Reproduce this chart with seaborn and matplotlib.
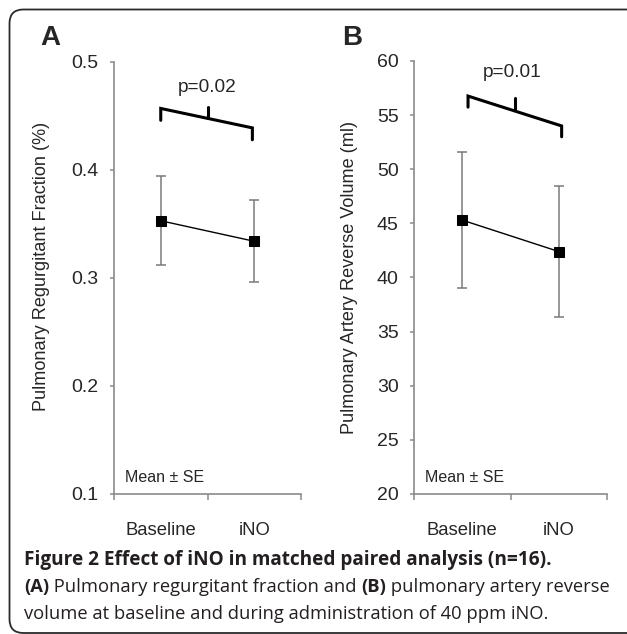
import matplotlib
matplotlib.use("Agg")
import matplotlib.pyplot as plt
import matplotlib.patches as mpatches
import seaborn as sns
import pandas as pd

# datos (media +/- SE)
groups = ['Baseline', 'iNO']
prf_mean = [0.353, 0.334]
prf_se = [0.0414, 0.038]
vol_mean = [45.3, 42.4]
vol_se = [6.25, 6.05]
p_values = ['p=0.02', 'p=0.01']

sns.set_style('white')
plt.rcParams['font.family'] = ['Liberation Sans', 'DejaVu Sans']

W, H = 627, 634
fig = plt.figure(figsize=(W / 100, H / 100), dpi=100)

axis_grey = '#8a8a8a'


def panel(ax, means, ses, ylim, yticks, ylabel, label_y, letter, bracket, ptext):
    df = pd.DataFrame({'grupo': groups, 'valor': means})
    ax.errorbar([0, 1], means, yerr=ses, fmt='none', ecolor='#7a7a7a',
                elinewidth=1.1, capsize=3.5, capthick=1.1, zorder=2)
    sns.pointplot(data=df, x='grupo', y='valor', color='black', markers='s',
                  markersize=7, linewidth=1.0, errorbar=None, ax=ax, zorder=3)
    ax.set_xlim(-0.5, 1.5)
    ax.set_ylim(*ylim)
    ax.set_yticks(yticks)
    ax.set_yticklabels([('%g' % t) if isinstance(t, int) else ('%.1f' % t) for t in yticks])
    ax.set_xticks([-0.5, 0.5, 1.5])
    ax.set_xticklabels(['', '', ''])
    ax.set_xticks([0, 1], minor=True)
    ax.set_xticklabels(groups, minor=True, fontsize=13.3)
    ax.tick_params(axis='x', which='major', direction='out', length=4, width=1.1,
                   color=axis_grey, bottom=True)
    ax.tick_params(axis='x', which='minor', length=0, pad=20)
    ax.tick_params(axis='y', direction='out', length=3, width=1.1, color=axis_grey,
                   left=True, labelsize=14, pad=8)
    ax.set_xlabel('')
    ax.set_ylabel(ylabel, fontsize=13.1, labelpad=8)
    ax.yaxis.set_label_coords(label_y[0], label_y[1])
    for s in ['top', 'right']:
        ax.spines[s].set_visible(False)
    for s in ['left', 'bottom']:
        ax.spines[s].set_color(axis_grey)
        ax.spines[s].set_linewidth(1.2)
    ax.text(11 / 187, 16 / 432, 'Mean \u00b1 SE', transform=ax.transAxes, fontsize=11.5,
            ha='left', va='center')
    # corchete con la p
    (x0, y0, y0b), (x1, y1, y1b), (xm, ym0, ym1), (xt, yt) = bracket
    ax.plot([x0, x0, x1, x1], [y0b, y0, y1, y1b], color='black', lw=2.2,
            solid_joinstyle='miter', clip_on=False)
    ax.plot([xm, xm], [ym0, ym1], color='black', lw=2.2, clip_on=False)
    ax.text(xt, yt, ptext, ha='center', va='center', fontsize=13.7)
    ax.figure.text(letter[1], letter[2], letter[0], fontsize=20, fontweight='bold',
                   ha='center', va='center')


ax1 = fig.add_axes([114 / W, 1 - 494 / H, 187 / W, 432 / H])
panel(ax1, prf_mean, prf_se, (0.1, 0.5), [0.1, 0.2, 0.3, 0.4, 0.5],
      'Pulmonary Regurgitant Fraction (%)', (-64 / 187, (494 - 266) / 432),
      ('A', 50 / W, 1 - 38 / H),
      ((0.0, 0.457, 0.446), (0.98, 0.439, 0.428), (0.5, 0.448, 0.458), (0.5, 0.476)),
      p_values[0])

ax2 = fig.add_axes([414 / W, 1 - 494 / H, 193 / W, 433 / H])
panel(ax2, vol_mean, vol_se, (20, 60), [20, 25, 30, 35, 40, 45, 50, 55, 60],
      'Pulmonary Artery Reverse Volume (ml)', (-56 / 193, (494 - 278) / 433),
      ('B', 352 / W, 1 - 38 / H),
      ((0.06, 56.76, 55.74), (1.03, 54.0, 53.0), (0.55, 55.45, 56.55), (0.515, 58.95)),
      p_values[1])

# marco redondeado
frame = mpatches.FancyBboxPatch((9.5 / W, 1.0 / H), 700 / W, (H - 10.5) / H,
                                boxstyle='round,pad=0,rounding_size=0.022',
                                transform=fig.transFigure, fill=False,
                                edgecolor='#2a2a2a', lw=1.3, clip_on=False)
fig.patches.append(frame)

# pie de figura
cap_font = ['Open Sans', 'DejaVu Sans']
fig.text(24 / W, 1 - 560 / H, 'Figure 2 Effect of iNO in matched paired analysis (n=16).',
         fontsize=13.7, fontweight='bold', family=cap_font, color='#231f20',
         ha='left', va='center')

renderer = fig.canvas.get_renderer()


def linea(y, segs):
    x = 24
    for txt, bold in segs:
        t = fig.text(x / W, 1 - y / H, txt, fontsize=13.2, family=cap_font,
                     fontweight='bold' if bold else 'normal', color='#231f20',
                     ha='left', va='center')
        x += t.get_window_extent(renderer).width


linea(587, [('(A)', True), (' Pulmonary regurgitant fraction and ', False),
            ('(B)', True), (' pulmonary artery reverse', False)])
linea(614, [('volume at baseline and during administration of 40 ppm iNO.', False)])

fig.savefig('out.png', dpi=100)
